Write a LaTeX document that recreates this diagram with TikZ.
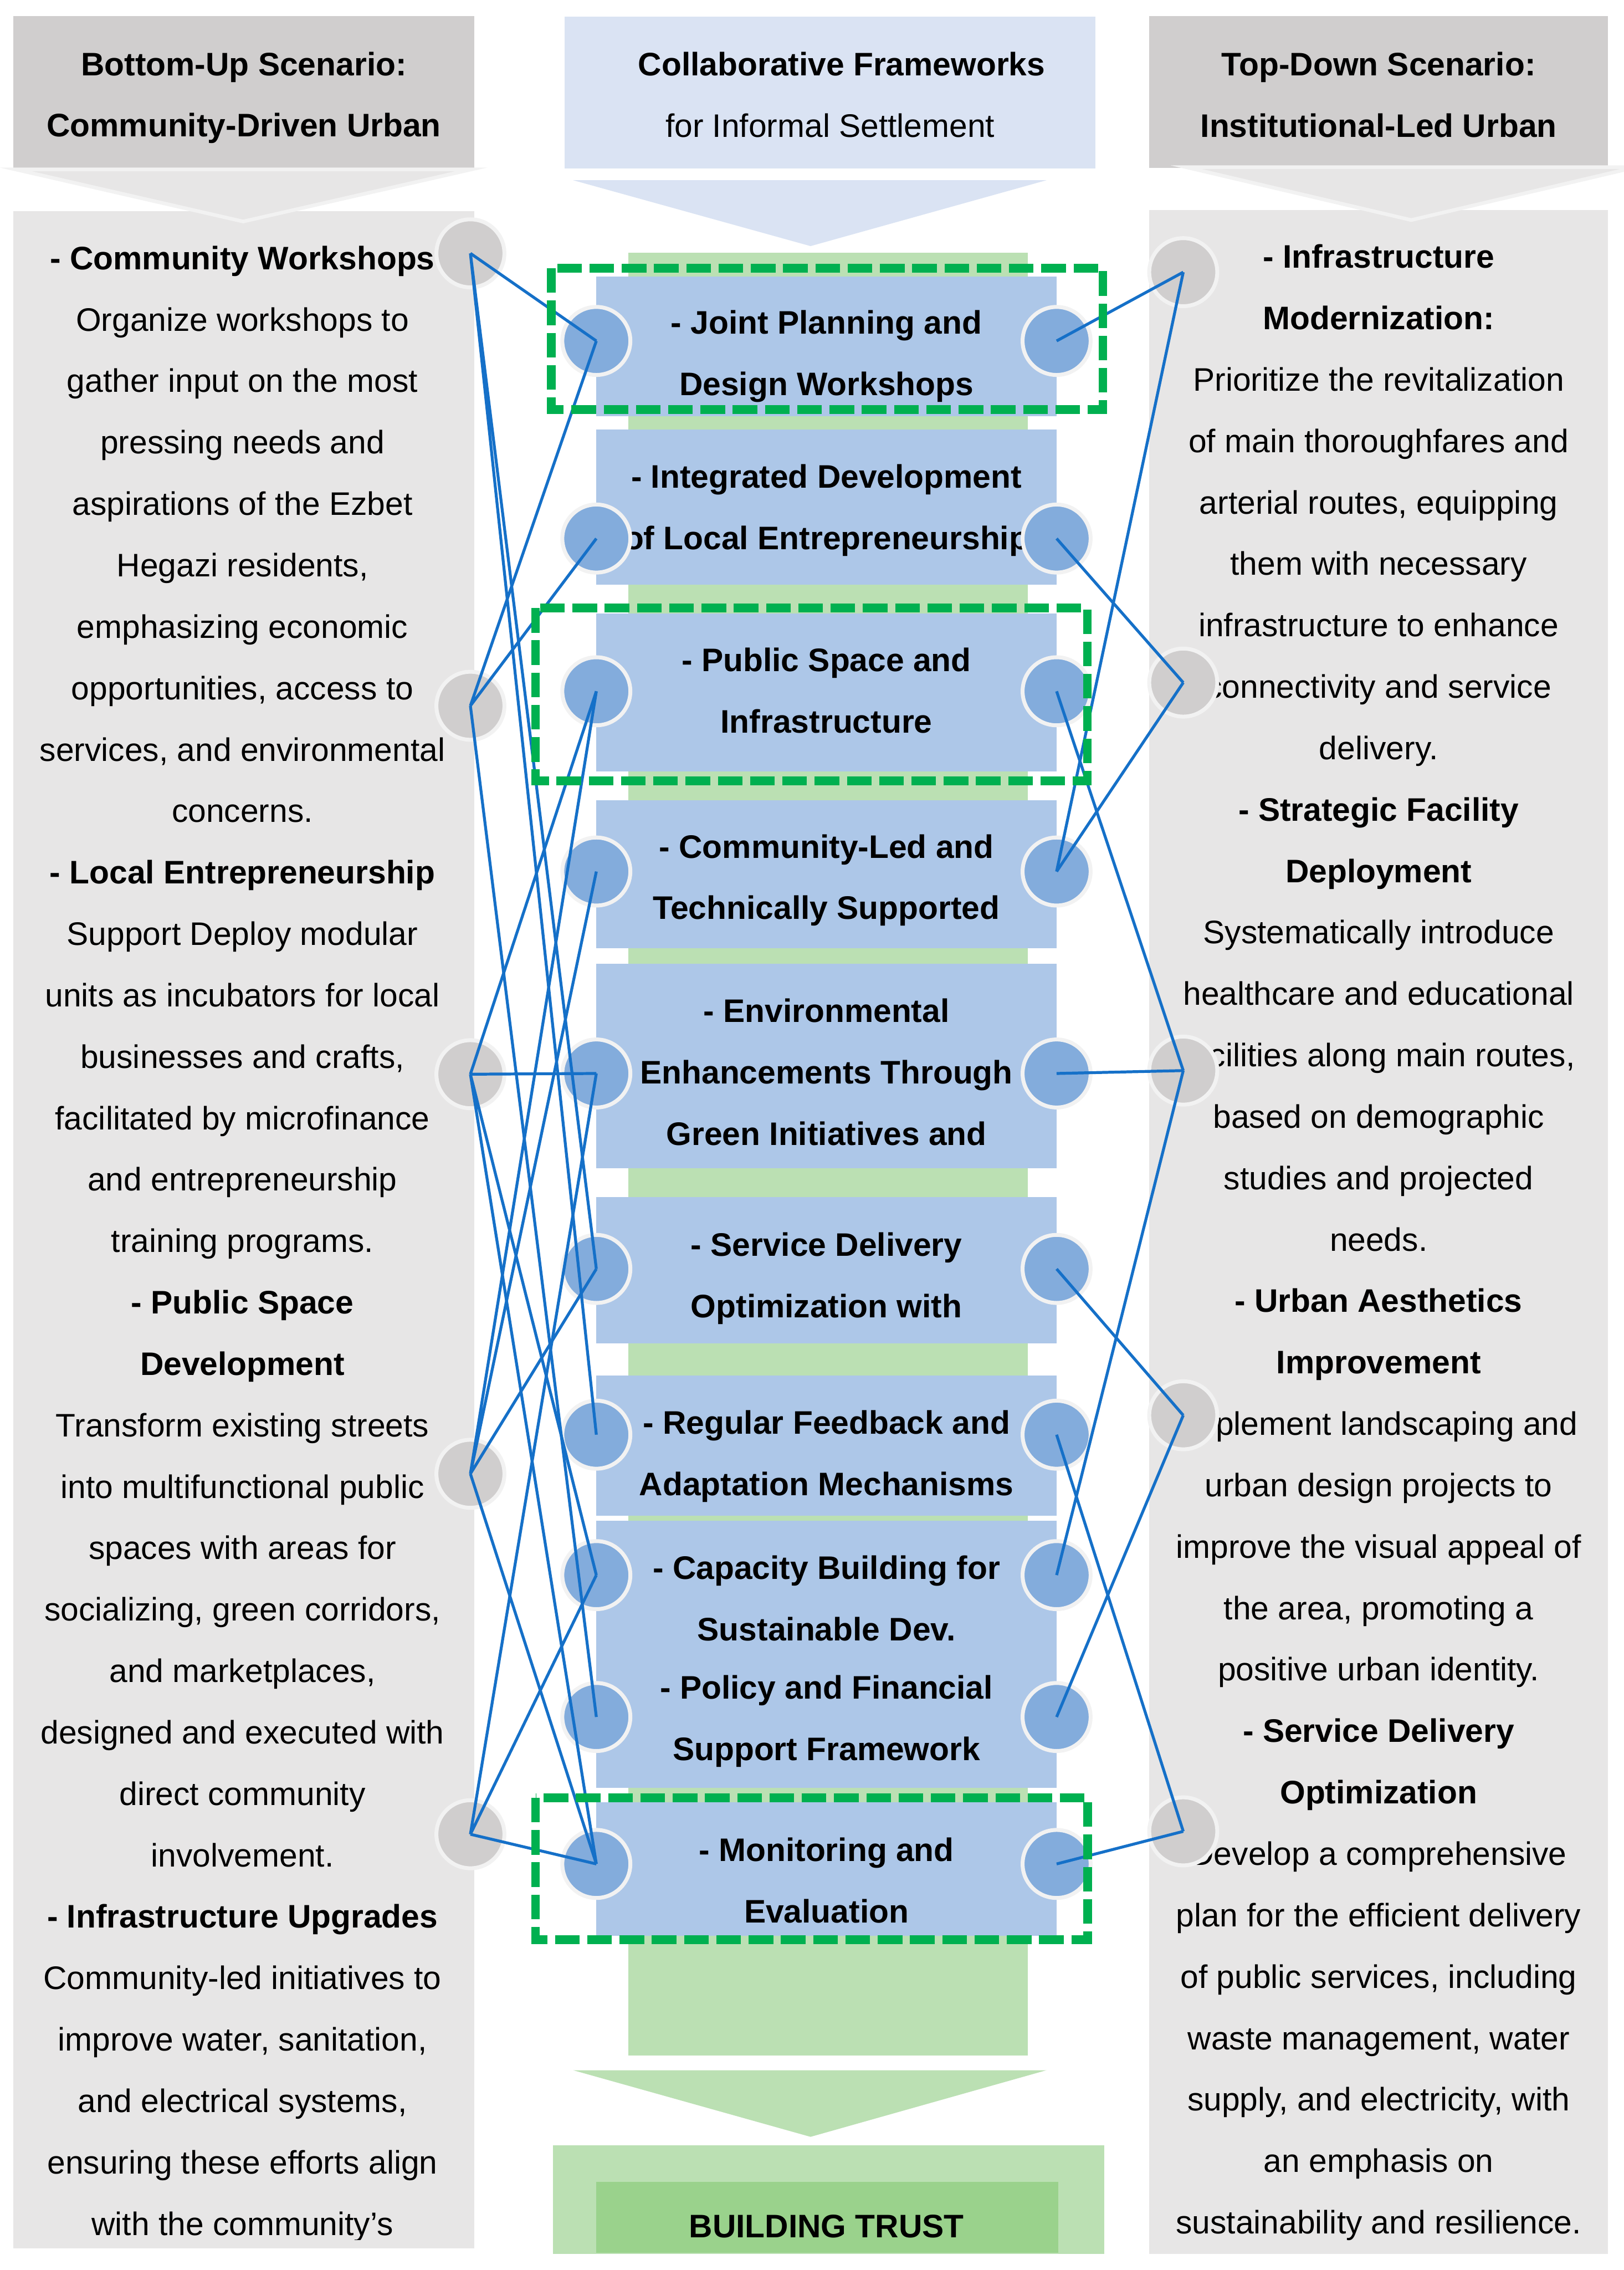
\documentclass[tikz,border=0pt]{standalone}
\usepackage{fontspec}
\setmainfont{Liberation Sans}
\usepackage{xcolor}
\usepackage{tikz}

\definecolor{headgray}{HTML}{D0CECE}
\definecolor{bodygray}{HTML}{E7E6E6}
\definecolor{ringgray}{HTML}{F2F2F2}
\definecolor{headblue}{HTML}{DAE3F3}
\definecolor{boxblue}{HTML}{ADC7E8}
\definecolor{dotblue}{HTML}{83ACDC}
\definecolor{dotgray}{HTML}{D0CECE}
\definecolor{wireblue}{HTML}{1570C8}
\definecolor{stripgreen}{HTML}{BBE0B3}
\definecolor{trustgreen}{HTML}{9AD28C}
\definecolor{framegreen}{HTML}{00B050}

\begin{document}
\begin{tikzpicture}[x=0.02cm, y=-0.02cm,
  txt/.style={inner sep=0pt, align=center, font=\fontsize{12.8}{24.15}\selectfont},
  btxt/.style={txt, font=\fontsize{12.8}{24.15}\selectfont\bfseries},
  idea/.style={fill=boxblue, minimum width=6.36cm, inner sep=0pt},
  head/.style={minimum height=2.1cm, inner sep=0pt},
  dot/.style={circle, fill=dotblue, draw=ringgray, line width=0.054cm, minimum size=0.94cm, inner sep=0pt},
  gdot/.style={dot, fill=dotgray},
  wire/.style={draw=wireblue, line width=0.04cm},
  greenframe/.style={draw=framegreen, line width=0.12cm, dash pattern=on 0.34cm off 0.106cm}]

\useasboundingbox (0,0) rectangle (1122,1568);

% Cabeceras
\node[head, fill=headgray, minimum width=6.37cm] (lefthead) at (168.5,63.5) {};
\node[head, fill=headblue, minimum width=7.34cm] (midhead) at (573.5,64) {};
\node[head, fill=headgray, minimum width=6.34cm] (righthead) at (952.5,63.5) {};
\node[btxt] (lefttitle) at (168.5,67.5) {Bottom-Up Scenario:\\Community-Driven Urban};
\node[txt] (midtitle) at (573.5,65.5) {\textbf{\hspace*{0.32cm}Collaborative Frameworks}\\for Informal Settlement};
\node[btxt] (righttitle) at (952.5,65.5) {Top-Down Scenario:\\Institutional-Led Urban};

% Columnas laterales
\fill[bodygray] (9.3,146) rectangle (327.8,1553);
\fill[bodygray] (794,145) rectangle (1111,1557);

% Flechas bajo las cabeceras
\filldraw[fill=bodygray, draw=ringgray, line width=0.05cm] (10.7,117) -- (325.7,117) -- (168,153) -- cycle;
\filldraw[fill=bodygray, draw=ringgray, line width=0.05cm] (819.6,115.5) -- (1130,115.5) -- (975,152) -- cycle;
\fill[headblue] (396,124.5) -- (723,124.5) -- (560,170) -- cycle;

% Texto de la izquierda
\begin{scope}
\clip (9.3,146) rectangle (327.8,1547);
\node[txt, anchor=north] (lefttext) at (167.5,169.5) {\textbf{- Community Workshops}\\
Organize workshops to\\
gather input on the most\\
pressing needs and\\
aspirations of the Ezbet\\
Hegazi residents,\\
emphasizing economic\\
opportunities, access to\\
services, and environmental\\
concerns.\\
\textbf{- Local Entrepreneurship}\\
Support Deploy modular\\
units as incubators for local\\
businesses and crafts,\\
facilitated by microfinance\\
and entrepreneurship\\
training programs.\\
\textbf{- Public Space}\\
\textbf{Development}\\
Transform existing streets\\
into multifunctional public\\
spaces with areas for\\
socializing, green corridors,\\
and marketplaces,\\
designed and executed with\\
direct community\\
involvement.\\
\textbf{- Infrastructure Upgrades}\\
Community-led initiatives to\\
improve water, sanitation,\\
and electrical systems,\\
ensuring these efforts align\\
with the community's};
\end{scope}

% Texto de la derecha
\node[txt, anchor=north] (righttext) at (952.5,168.5) {\textbf{- Infrastructure}\\
\textbf{Modernization:}\\
Prioritize the revitalization\\
of main thoroughfares and\\
arterial routes, equipping\\
them with necessary\\
infrastructure to enhance\\
connectivity and service\\
delivery.\\
\textbf{- Strategic Facility}\\
\textbf{Deployment}\\
Systematically introduce\\
healthcare and educational\\
facilities along main routes,\\
based on demographic\\
studies and projected\\
needs.\\
\textbf{- Urban Aesthetics}\\
\textbf{Improvement}\\
Implement landscaping and\\
urban design projects to\\
improve the visual appeal of\\
the area, promoting a\\
positive urban identity.\\
\textbf{- Service Delivery}\\
\textbf{Optimization}\\
Develop a comprehensive\\
plan for the efficient delivery\\
of public services, including\\
waste management, water\\
supply, and electricity, with\\
an emphasis on\\
sustainability and resilience.};

% Franja verde y cajas centrales
\fill[stripgreen] (434,174.6) rectangle (710,1420);
\node[idea, minimum height=1.93cm] (b1) at (571,239.25) {};
\node[idea, minimum height=2.142cm] (b2) at (571,350.15) {};
\node[idea, minimum height=2.182cm] (b3) at (571,478.25) {};
\node[idea, minimum height=2.044cm] (b4) at (571,603.9) {};
\node[idea, minimum height=2.826cm] (b5) at (571,736.15) {};
\node[idea, minimum height=2.02cm] (b6) at (571,877.5) {};
\node[idea, minimum height=1.94cm] (b7) at (571,998.5) {};
\node[idea, minimum height=1.892cm] (b8) at (571,1097.7) {};
\node[idea, minimum height=1.8cm] (b9) at (571,1190) {};
\node[idea, minimum height=1.84cm] (b10) at (571,1291) {};

% Textos de las cajas
\node[btxt] (t1) at (571,246) {- Joint Planning and\\Design Workshops};
\node[btxt] (t2) at (571,352.5) {- Integrated Development\\of Local Entrepreneurship};
\node[btxt] (t3) at (571,477) {- Public Space and\\Infrastructure};
\node[btxt] (t4) at (571,608) {- Community-Led and\\Technically Supported};
\node[btxt] (t5) at (571,740.5) {- Environmental\\Enhancements Through\\Green Initiatives and};
\node[btxt] (t6) at (571,883) {- Service Delivery\\Optimization with};
\node[btxt] (t7) at (571,1006) {- Regular Feedback and\\Adaptation Mechanisms};
\node[btxt] (t8) at (571,1104) {- Capacity Building for\\Sustainable Dev.};
\node[btxt] (t9) at (571,1189) {- Policy and Financial\\Support Framework};
\node[btxt] (t10) at (571,1299) {- Monitoring and\\Evaluation};

% Resultado final
\fill[stripgreen] (396,1430) -- (723,1430) -- (560,1476) -- cycle;
\fill[stripgreen] (382,1482) rectangle (763,1557);
\fill[trustgreen] (412,1507) rectangle (731,1556);
\node[btxt] (trust) at (571,1538) {BUILDING TRUST};

% Puntos de las cajas
\node[dot] (lb1) at (412,235.5) {};
\node[dot] (lb2) at (412,372) {};
\node[dot] (lb3) at (412,477.5) {};
\node[dot] (lb4) at (412,602) {};
\node[dot] (lb5) at (412,741.5) {};
\node[dot] (lb6) at (412,876.5) {};
\node[dot] (lb7) at (412,991) {};
\node[dot] (lb8) at (412,1088) {};
\node[dot] (lb9) at (412,1186) {};
\node[dot] (lb10) at (412,1287.5) {};
\node[dot] (rb1) at (730,235.5) {};
\node[dot] (rb2) at (730,372) {};
\node[dot] (rb3) at (730,477.5) {};
\node[dot] (rb4) at (730,602) {};
\node[dot] (rb5) at (730,741.5) {};
\node[dot] (rb6) at (730,876.5) {};
\node[dot] (rb7) at (730,991) {};
\node[dot] (rb8) at (730,1088) {};
\node[dot] (rb9) at (730,1186) {};
\node[dot] (rb10) at (730,1287.5) {};

% Puntos de los escenarios
\node[gdot] (lg1) at (325,175) {};
\node[gdot] (lg2) at (325,487.5) {};
\node[gdot] (lg3) at (325,742) {};
\node[gdot] (lg4) at (325,1018) {};
\node[gdot] (lg5) at (325,1267) {};
\node[gdot] (rg1) at (817.5,188) {};
\node[gdot] (rg2) at (817.5,471.5) {};
\node[gdot] (rg3) at (817.5,739.5) {};
\node[gdot] (rg4) at (817.5,977.6) {};
\node[gdot] (rg5) at (817.5,1265) {};

% Enlaces izquierda
\draw[wire] (lg1.center) -- (lb1.center) (lg1.center) -- (lb6.center) (lg1.center) -- (lb7.center);
\draw[wire] (lg2.center) -- (lb1.center) (lg2.center) -- (lb2.center) (lg2.center) -- (lb9.center);
\draw[wire] (lg3.center) -- (lb3.center) (lg3.center) -- (lb5.center) (lg3.center) -- (lb8.center) (lg3.center) -- (lb10.center);
\draw[wire] (lg4.center) -- (lb3.center) (lg4.center) -- (lb4.center) (lg4.center) -- (lb6.center) (lg4.center) -- (lb10.center);
\draw[wire] (lg5.center) -- (lb5.center) (lg5.center) -- (lb8.center) (lg5.center) -- (lb10.center);

% Enlaces derecha
\draw[wire] (rg1.center) -- (rb1.center) (rg1.center) -- (rb4.center);
\draw[wire] (rg2.center) -- (rb2.center) (rg2.center) -- (rb4.center);
\draw[wire] (rg3.center) -- (rb3.center) (rg3.center) -- (rb5.center) (rg3.center) -- (rb8.center);
\draw[wire] (rg4.center) -- (rb6.center) (rg4.center) -- (rb9.center);
\draw[wire] (rg5.center) -- (rb7.center) (rg5.center) -- (rb10.center);

% Marcos discontinuos
\draw[greenframe] (381,185.3) rectangle (762,283);
\draw[greenframe] (370,420) rectangle (751.3,539.3);
\draw[greenframe] (370,1241.8) rectangle (751.5,1339.8);

\end{tikzpicture}
\end{document}
